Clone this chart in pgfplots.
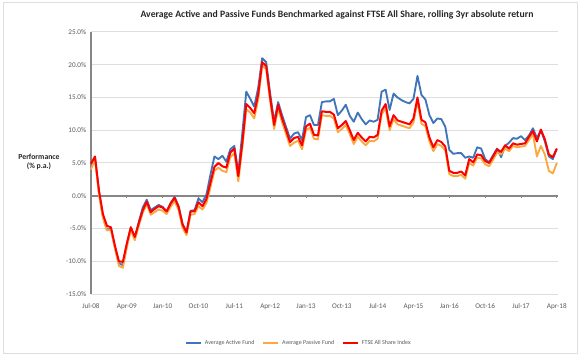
\documentclass[border=0pt]{standalone}
\usepackage{fontspec}
\setmainfont{Carlito}
\usepackage{pgfplots}
\usepackage{pgfplotstable}
\pgfplotsset{compat=1.18}
\definecolor{cblue}{RGB}{65,117,186}
\definecolor{corange}{RGB}{251,168,62}
\definecolor{cred}{RGB}{255,0,0}
\definecolor{cgrid}{RGB}{222,222,222}
\definecolor{caxis}{RGB}{134,134,134}
\definecolor{ctxt}{RGB}{89,89,89}
\pgfplotstableread{
i active passive ftse
0 4.8 4.0 4.9
1 5.8 5.6 6.0
2 0.6 0.2 0.8
3 -3.2 -3.4 -2.8
4 -5.2 -5.3 -4.6
5 -5.0 -5.2 -4.8
6 -7.8 -8.0 -7.6
7 -10.3 -10.7 -10.0
8 -10.6 -11.0 -10.1
9 -7.4 -7.9 -7.3
10 -4.9 -5.2 -4.8
11 -6.4 -6.8 -6.3
12 -4.0 -4.6 -4.2
13 -1.8 -2.6 -2.2
14 -0.6 -1.3 -0.9
15 -2.2 -2.9 -2.5
16 -1.8 -2.5 -2.0
17 -1.4 -2.1 -1.6
18 -1.7 -2.3 -1.8
19 -2.4 -2.8 -2.4
20 -1.1 -1.7 -1.2
21 -0.2 -0.8 -0.3
22 -1.6 -2.2 -1.7
23 -4.3 -4.9 -4.4
24 -5.6 -6.0 -5.6
25 -2.3 -2.9 -2.4
26 -2.2 -2.8 -2.4
27 -0.4 -1.6 -1.0
28 -1.0 -2.1 -1.6
29 0.2 -1.1 -0.5
30 3.2 1.3 2.0
31 6.0 3.8 4.4
32 5.6 4.3 5.0
33 6.1 3.8 4.5
34 5.2 3.6 4.3
35 7.1 5.9 6.6
36 7.6 6.5 7.2
37 3.6 2.2 3.0
38 9.5 7.3 8.0
39 15.9 13.2 14.0
40 14.8 12.7 13.4
41 13.6 11.8 12.6
42 16.5 14.7 15.5
43 21.0 19.9 20.4
44 20.4 19.3 19.8
45 15.6 14.4 15.0
46 11.3 10.2 10.8
47 14.3 13.3 13.9
48 12.3 11.2 11.8
49 10.5 9.4 10.0
50 8.7 7.6 8.2
51 9.5 8.1 8.8
52 9.7 8.4 9.0
53 8.5 7.1 7.7
54 12.0 10.0 10.6
55 12.3 10.4 11.0
56 10.8 8.7 9.3
57 10.8 8.6 9.2
58 14.3 12.3 12.9
59 14.4 12.2 12.8
60 14.4 12.2 12.8
61 14.8 11.8 12.4
62 12.3 9.7 10.3
63 13.0 10.2 10.8
64 13.9 10.8 11.4
65 12.2 9.4 10.0
66 11.3 7.9 8.5
67 12.7 9.0 9.6
68 11.7 8.3 8.9
69 10.9 7.7 8.3
70 11.5 8.4 9.0
71 11.3 8.3 8.9
72 11.6 8.7 9.3
73 15.9 12.4 13.0
74 16.2 13.4 14.0
75 13.1 10.0 10.6
76 15.6 11.7 12.3
77 15.0 10.9 11.5
78 14.6 10.7 11.3
79 14.3 10.5 11.1
80 14.1 10.3 10.9
81 14.8 11.2 11.8
82 18.3 14.4 15.0
83 15.4 11.0 11.6
84 14.7 10.6 11.2
85 12.3 8.3 8.9
86 11.1 6.8 7.4
87 11.8 7.9 8.5
88 11.7 7.6 8.2
89 10.5 6.9 7.5
90 7.0 3.3 3.8
91 6.4 3.0 3.5
92 6.5 3.0 3.5
93 6.5 3.2 3.7
94 5.8 2.6 3.1
95 6.0 5.0 5.6
96 5.8 4.6 5.1
97 7.4 5.8 6.3
98 7.2 5.7 6.2
99 5.6 4.8 5.3
100 5.1 4.5 5.0
101 6.2 5.5 6.0
102 7.2 6.6 7.1
103 5.9 6.3 6.7
104 7.6 7.2 7.7
105 8.1 6.8 7.2
106 8.8 7.6 8.0
107 8.7 7.4 7.8
108 9.1 7.5 7.9
109 8.5 7.6 8.0
110 9.2 8.5 9.0
111 10.3 9.4 9.9
112 8.8 6.0 8.3
113 10.0 7.6 10.1
114 8.3 6.3 8.6
115 6.0 3.8 6.3
116 5.6 3.4 5.9
117 7.2 5.0 7.2
}\datatable
\begin{document}
\begin{tikzpicture}
\path[use as bounding box] (0,0) rectangle (435pt,267pt);
\draw[cgrid, line width=0.75pt] (2.25pt,2.25pt) rectangle (432.75pt,264.75pt);
\begin{axis}[
  at={(68.25pt,46.5pt)}, anchor=south west,
  scale only axis, width=350.25pt, height=196.5pt,
  xmin=0, xmax=117.3, ymin=-15, ymax=25,
  axis line style={draw=none},
  ytick={-15,-10,...,25},
  xtick={0,9,...,117},
  xticklabels={Jul-08,Apr-09,Jan-10,Oct-10,Jul-11,Apr-12,Jan-13,Oct-13,Jul-14,Apr-15,Jan-16,Oct-16,Jul-17,Apr-18},
  yticklabel={\pgfmathprintnumber[fixed,fixed zerofill,precision=1]{\tick}\%},
  /pgf/number format/assume math mode=true,
  tick style={draw=none},
  ticklabel style={font=\fontsize{5.4}{6}\selectfont, text=ctxt},
  xticklabel style={yshift=-3.5pt},
  ymajorgrids, grid style={cgrid, line width=0.75pt},
  legend columns=3,
  legend style={at={(rel axis cs:0.446,-0.187)}, anchor=center, draw=none, fill=none,
    font=\fontsize{4.5}{5}\selectfont, text=ctxt,
    /tikz/every even column/.append style={column sep=4pt},
    inner sep=0pt},
  legend image code/.code={\draw[#1, line width=1.5pt] (0pt,0pt) -- (11.25pt,0pt);},
  clip=false,
]
\draw[caxis, line width=1.5pt] (axis cs:0,0) -- (axis cs:117.3,0);
\pgfplotsinvokeforeach{9,18,...,117}{\draw[caxis, line width=0.6pt] (axis cs:#1,0) -- ([yshift=-1.8pt]axis cs:#1,0);}
\draw[caxis, line width=1.5pt] (axis cs:0,-15) -- (axis cs:0,25);
\addplot[cblue, line width=1.4pt, no marks, line join=round] table[x=i, y=active] {\datatable};
\addlegendentry{Average Active Fund}
\addplot[corange, line width=1.4pt, no marks, line join=round] table[x=i, y=passive] {\datatable};
\addlegendentry{Average Passive Fund}
\addplot[cred, line width=1.5pt, no marks, line join=round] table[x=i, y=ftse] {\datatable};
\addlegendentry{FTSE All Share Index}
\end{axis}
\node[font=\bfseries\fontsize{7.3}{8.5}\selectfont, text=black!85] at (252.75pt,255.75pt) {Average Active and Passive Funds Benchmarked against FTSE All Share, rolling 3yr absolute return};
\node[font=\bfseries\fontsize{5.8}{7}\selectfont, align=center, text=black!85] at (29.25pt,145.5pt) {Performance\\(\% p.a.)};
\end{tikzpicture}
\end{document}
